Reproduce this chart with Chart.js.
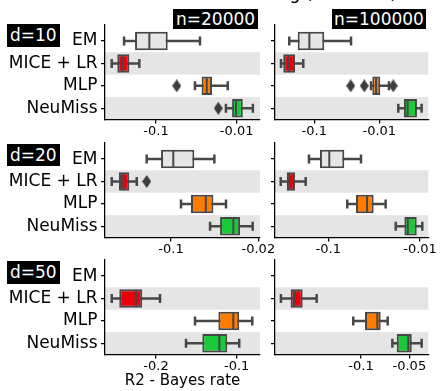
<!DOCTYPE html>
<html><head><meta charset="utf-8">
<script src="https://cdn.jsdelivr.net/npm/chart.js@4.4.0/dist/chart.umd.min.js"></script>
<style>
html,body{margin:0;padding:0;background:#fff;}
body{width:441px;height:391px;overflow:hidden;position:relative;font-family:'DejaVu Sans',sans-serif;}
canvas{position:absolute;}
.tag{position:absolute;background:#000;color:#fff;font-family:'DejaVu Sans';font-size:17px;line-height:20px;white-space:nowrap;z-index:5;}
#title{position:absolute;right:44px;top:-17px;font-family:'DejaVu Sans';font-size:17px;line-height:20px;white-space:nowrap;color:#000;}
</style></head><body>
<div id="title">Self-masking (Gaussian)</div>
<canvas id="p1" width="300" height="133" style="left:0;top:9px"></canvas>
<canvas id="p2" width="176" height="133" style="left:265px;top:9px"></canvas>
<canvas id="p3" width="300" height="133" style="left:0;top:127px"></canvas>
<canvas id="p4" width="176" height="133" style="left:265px;top:127px"></canvas>
<canvas id="p5" width="300" height="147" style="left:0;top:244px"></canvas>
<canvas id="p6" width="176" height="147" style="left:265px;top:244px"></canvas>
<div class="tag" style="left:172.7px;top:9.3px;padding:0 3.3px;">n=20000</div>
<div class="tag" style="left:331.7px;top:9.3px;padding:0 2.3px;">n=100000</div>
<div class="tag" style="left:6.7px;top:24px;padding:1.3px 3.3px;">d=10</div>
<div class="tag" style="left:6.7px;top:143.5px;padding:1.3px 3.3px;">d=20</div>
<div class="tag" style="left:6.7px;top:261px;padding:1.3px 3.3px;">d=50</div>
<script>
const methods = ['EM', 'MICE + LR', 'MLP', 'NeuMiss'];
const methodColors = ['#e6e6e6', '#e8000b', '#ff7c00', '#1ac938'];

// d=10, n=20000
const d10n20k_lo  = [-0.249, -0.354, -0.0329, -0.0136];
const d10n20k_q1  = [-0.182, -0.302, -0.0272, -0.0114];
const d10n20k_med = [-0.121, -0.262, -0.0235, -0.0102];
const d10n20k_q3  = [-0.0716, -0.214, -0.0202, -0.0084];
const d10n20k_hi  = [-0.0285, -0.161, -0.0129, -0.0063];
const d10n20k_out = [[2, -0.0554], [3, -0.0169]];
const d10n20k_lim = [-0.429, -0.00514];
const d10n20k_ticks = [-0.1, -0.01];

// d=10, n=100000
const d10n100k_lo  = [-0.2425, -0.325, -0.0134, -0.0051];
const d10n100k_q1  = [-0.180, -0.300, -0.0128, -0.00417];
const d10n100k_med = [-0.119, -0.245, -0.0112, -0.00366];
const d10n100k_q3  = [-0.0702, -0.198, -0.00966, -0.00263];
const d10n100k_hi  = [-0.0272, -0.1476, -0.0071, -0.00223];
const d10n100k_out = [[2, -0.0275], [2, -0.0170], [2, -0.0061]];
const d10n100k_lim = [-0.402, -0.00176];
const d10n100k_ticks = [-0.1, -0.01];

// d=20, n=20000
const d20n20k_lo  = [-0.1566, -0.2984, -0.0832, -0.0487];
const d20n20k_q1  = [-0.1202, -0.261, -0.0692, -0.0405];
const d20n20k_med = [-0.0959, -0.241, -0.0527, -0.0317];
const d20n20k_q3  = [-0.0651, -0.2158, -0.0458, -0.0280];
const d20n20k_hi  = [-0.045, -0.188, -0.0363, -0.0222];
const d20n20k_out = [[1, -0.1566]];
const d20n20k_lim = [-0.3377, -0.0194];
const d20n20k_ticks = [-0.1, -0.02];

// d=20, n=100000
const d20n100k_lo  = [-0.1624, -0.330, -0.0621, -0.0184];
const d20n100k_q1  = [-0.1232, -0.284, -0.0499, -0.0148];
const d20n100k_med = [-0.0975, -0.2663, -0.0378, -0.0136];
const d20n100k_q3  = [-0.0669, -0.2307, -0.032, -0.01086];
const d20n100k_hi  = [-0.044, -0.1764, -0.0237, -0.00944];
const d20n100k_out = [];
const d20n100k_lim = [-0.381, -0.00812];
const d20n100k_ticks = [-0.1, -0.01];

// d=50, n=20000
const d50n20k_lo  = [null, -0.2926, -0.143, -0.1545];
const d50n20k_q1  = [null, -0.2742, -0.117, -0.1343];
const d50n20k_med = [null, -0.238, -0.1029, -0.116];
const d50n20k_q3  = [null, -0.2250, -0.0978, -0.1084];
const d50n20k_hi  = [null, -0.1932, -0.0874, -0.0978];
const d50n20k_out = [];
const d50n20k_lim = [-0.31, -0.0818];
const d50n20k_ticks = [-0.2, -0.1];

// d=50, n=100000
const d50n100k_lo  = [null, -0.315, -0.1117, -0.0638];
const d50n100k_q1  = [null, -0.274, -0.0944, -0.0599];
const d50n100k_med = [null, -0.2604, -0.0791, -0.0507];
const d50n100k_q3  = [null, -0.2307, -0.0754, -0.0483];
const d50n100k_hi  = [null, -0.1888, -0.0682, -0.0419];
const d50n100k_out = [];
const d50n100k_lim = [-0.343, -0.0381];
const d50n100k_ticks = [-0.1, -0.05];

const FONT = 'DejaVu Sans';
const EDGE = '#474747';

const dia = document.createElement('canvas');
dia.width = 9; dia.height = 13;
(function(){ const c = dia.getContext('2d'); c.fillStyle = '#3d3d3d'; c.beginPath();
  c.moveTo(4.5, 0); c.lineTo(9, 6.5); c.lineTo(4.5, 13); c.lineTo(0, 6.5); c.closePath(); c.fill(); })();

const bandPlugin = {
  id: 'bands',
  beforeDraw(chart) {
    const {ctx, chartArea: a, scales: {y}} = chart;
    ctx.save();
    ctx.fillStyle = '#e5e5e5';
    [1, 3].forEach(i => {
      const t = y.getPixelForValue(i - 0.5), b = y.getPixelForValue(i + 0.5);
      ctx.fillRect(a.left, Math.min(t, b), a.right - a.left, Math.abs(b - t));
    });
    ctx.restore();
  }
};

function makePanel(id, s) {
  const m = v => Math.abs(v);
  const whisk = [], box = [], med = [], caps = [], outs = [];
  for (let i = 0; i < 4; i++) {
    if (s.med[i] == null) continue;
    whisk.push({y: i, x: [m(s.lo[i]), m(s.hi[i])]});
    box.push({y: i, x: [m(s.q1[i]), m(s.q3[i])]});
    med.push({x: m(s.med[i]), y: i});
    caps.push({x: m(s.lo[i]), y: i}, {x: m(s.hi[i]), y: i});
  }
  s.out.forEach(o => outs.push({x: m(o[1]), y: o[0]}));
  const tickLabels = s.ticks.map(v => String(v));
  const chart = new Chart(document.getElementById(id), {
    type: 'bar',
    data: {
      datasets: [
        {type: 'scatter', data: outs, pointStyle: dia, pointRadius: 6, pointRotation: 0},
        {type: 'scatter', data: med, pointStyle: 'line', pointRotation: 90, pointRadius: 8,
         pointBorderWidth: 2, pointBorderColor: EDGE, pointBackgroundColor: EDGE},
        {type: 'scatter', data: caps, pointStyle: 'line', pointRotation: 90, pointRadius: 4.5,
         pointBorderWidth: 2.5, pointBorderColor: EDGE, pointBackgroundColor: EDGE},
        {type: 'bar', indexAxis: 'y', data: box, grouped: false, barPercentage: 1, categoryPercentage: 1,
         maxBarThickness: 18.5,
         backgroundColor: c => methodColors[c.raw ? c.raw.y : 0], borderColor: EDGE, borderWidth: 2,
         borderSkipped: false, inflateAmount: 0},
        {type: 'bar', indexAxis: 'y', data: whisk, grouped: false, barPercentage: 1, categoryPercentage: 1,
         maxBarThickness: 2.5, backgroundColor: EDGE, borderWidth: 0, inflateAmount: 0}
      ]
    },
    options: {
      responsive: false, animation: false, devicePixelRatio: 1,
      layout: {padding: {top: 15, right: s.pr, left: 0, bottom: 0}},
      plugins: {legend: {display: false}, tooltip: {enabled: false}},
      events: [],
      scales: {
        x: {
          type: 'logarithmic', reverse: true, offset: false,
          min: m(s.lim[1]), max: m(s.lim[0]),
          afterBuildTicks: sc => { sc.ticks = s.ticks.map(v => ({value: m(v)})); },
          ticks: {autoSkip: false, maxRotation: 0, callback: (v, i) => tickLabels[i],
                  font: {family: FONT, size: 13}, color: '#000', padding: 0},
          grid: {offset: false, drawOnChartArea: false, drawTicks: true, tickLength: 4, color: '#000', lineWidth: 1.25},
          border: {display: true, color: '#000', width: 1.25},
          title: s.title ? {display: true, text: s.title, font: {family: FONT, size: 15}, color: '#000',
                  padding: {top: 0, bottom: 1}} : {display: false},
          afterFit: sc => { sc.height = s.hx; }
        },
        y: {
          type: 'linear', reverse: true, min: -0.75, max: 3.5, offset: false, beginAtZero: false,
          afterBuildTicks: sc => { sc.ticks = [0, 1, 2, 3].map(v => ({value: v})); },
          ticks: {autoSkip: false, callback: (v, i) => s.left ? methods[i] : '',
                  font: {family: FONT, size: 17}, color: '#000', padding: 3.5},
          grid: {offset: false, drawOnChartArea: false, drawTicks: true, tickLength: 4, color: '#000', lineWidth: 1.25},
          border: {display: true, color: '#000', width: 1.25},
          afterFit: sc => { sc.width = s.left ? 105 : 10; }
        }
      }
    },
    plugins: [bandPlugin]
  });
  // nudge layout padding until the plot area sits where it should in this canvas
  for (let k = 0; k < 6; k++) {
    const a = chart.chartArea;
    const dt = s.top - a.top, db = a.bottom - s.bottom;
    if (Math.abs(dt) < 0.05 && Math.abs(db) < 0.05) break;
    const p = chart.options.layout.padding;
    p.top += dt; p.bottom += db;
    chart.update();
  }
}

makePanel('p1', {lo: d10n20k_lo, q1: d10n20k_q1, med: d10n20k_med, q3: d10n20k_q3, hi: d10n20k_hi,
  out: d10n20k_out, lim: d10n20k_lim, ticks: d10n20k_ticks, left: true, top: 15.2, bottom: 110.5, pr: 40, hx: 22.5});
makePanel('p2', {lo: d10n100k_lo, q1: d10n100k_q1, med: d10n100k_med, q3: d10n100k_q3, hi: d10n100k_hi,
  out: d10n100k_out, lim: d10n100k_lim, ticks: d10n100k_ticks, left: false, top: 15.2, bottom: 110.5, pr: 12.7, hx: 22.5});
makePanel('p3', {lo: d20n20k_lo, q1: d20n20k_q1, med: d20n20k_med, q3: d20n20k_q3, hi: d20n20k_hi,
  out: d20n20k_out, lim: d20n20k_lim, ticks: d20n20k_ticks, left: true, top: 15.3, bottom: 110.5, pr: 40, hx: 22.5});
makePanel('p4', {lo: d20n100k_lo, q1: d20n100k_q1, med: d20n100k_med, q3: d20n100k_q3, hi: d20n100k_hi,
  out: d20n100k_out, lim: d20n100k_lim, ticks: d20n100k_ticks, left: false, top: 15.3, bottom: 110.5, pr: 12.7, hx: 22.5});
makePanel('p5', {lo: d50n20k_lo, q1: d50n20k_q1, med: d50n20k_med, q3: d50n20k_q3, hi: d50n20k_hi,
  out: d50n20k_out, lim: d50n20k_lim, ticks: d50n20k_ticks, left: true, top: 15.3, bottom: 110.5, pr: 40, hx: 36.5,
  title: 'R2 - Bayes rate'});
makePanel('p6', {lo: d50n100k_lo, q1: d50n100k_q1, med: d50n100k_med, q3: d50n100k_q3, hi: d50n100k_hi,
  out: d50n100k_out, lim: d50n100k_lim, ticks: d50n100k_ticks, left: false, top: 15.3, bottom: 110.5, pr: 12.7, hx: 36.5});
</script>
</body></html>
